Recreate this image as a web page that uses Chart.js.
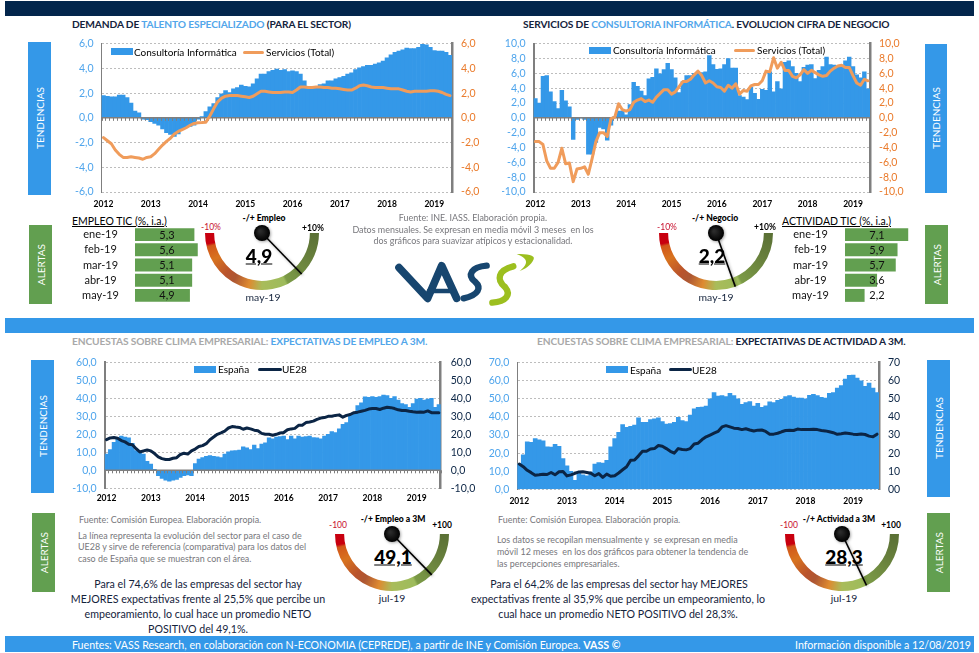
<!DOCTYPE html>
<html lang="es">
<head>
<meta charset="utf-8">
<title>Consultoría Informática - Tendencias y alertas</title>
<script src="https://cdn.jsdelivr.net/npm/chart.js@4/dist/chart.umd.min.js"></script>
<style>
  html, body { margin: 0; padding: 0; background: #fff; }
  body { position: relative; width: 979px; height: 653px; overflow: hidden; font-family: Lato, "Open Sans", sans-serif; color: #14233c; }
  canvas { position: absolute; }
  .band { position: absolute; left: 5px; width: 969px; }
  .side { position: absolute; display: flex; align-items: center; justify-content: center; color: #fff; font-size: 10px; }
  .side span { writing-mode: vertical-rl; transform: rotate(180deg); white-space: nowrap; }
  .blue { background: #3498e8; }
  .green { background: #629f50; }
  .t { position: absolute; white-space: nowrap; transform: translateY(-50%); }
  .c { position: absolute; white-space: nowrap; transform: translate(-50%, -50%); }
  .title { font-size: 10.2px; font-weight: 700; letter-spacing: -0.13px; color: #14233c; }
  .sky { color: #52a6ea; }
  .mute { color: #a9a9a9; }
  .note { font-size: 8.95px; color: #77777c; }
  .para { font-size: 10.65px; color: #14233c; }
  .gname { font-size: 8.6px; font-weight: 900; color: #000; }
  .gend { font-size: 8.5px; color: #000; font-weight: 700; }
  .gmin { color: #c8102e; font-weight: 400; }
  .gval { font-size: 19px; font-weight: 900; color: #000; text-decoration: underline; }
  .gdate { font-size: 10.4px; color: #14233c; }
  .tbl { font-size: 10.5px; color: #000; text-decoration: underline; }
  .leg { font-size: 10px; color: #000; }
  .swatch { position: absolute; background: #3498e8; }
  .legline { position: absolute; height: 3px; border-radius: 2px; }
  .foot { font-size: 10.65px; color: #fff; }
</style>
</head>
<body>

<div class="band" style="top:1px;height:15px;background:#03264c"></div>
<div class="band blue" style="top:318px;height:15px"></div>
<div class="band blue" style="top:636px;height:16px"></div>

<div class="side blue" style="left:28px;top:42px;width:23px;height:153px"><span>TENDENCIAS</span></div>
<div class="side blue" style="left:925px;top:44px;width:22px;height:149px"><span>TENDENCIAS</span></div>
<div class="side green" style="left:29px;top:225px;width:23px;height:79px"><span>ALERTAS</span></div>
<div class="side green" style="left:925px;top:225px;width:23px;height:79px"><span>ALERTAS</span></div>
<div class="side blue" style="left:31px;top:360px;width:23px;height:133px"><span>TENDENCIAS</span></div>
<div class="side blue" style="left:927px;top:360px;width:23px;height:137px"><span>TENDENCIAS</span></div>
<div class="side green" style="left:32px;top:513px;width:23px;height:79px"><span>ALERTAS</span></div>
<div class="side green" style="left:927px;top:513px;width:23px;height:79px"><span>ALERTAS</span></div>

<div class="t title" style="left:72px;top:24px">DEMANDA DE <span class="sky">TALENTO ESPECIALIZADO</span> (PARA EL SECTOR)</div>
<div class="t title" style="left:523px;top:24px">SERVICIOS DE <span class="sky">CONSULTORIA INFORMÁTICA</span>. EVOLUCION CIFRA DE NEGOCIO</div>
<div class="t title" style="left:72px;top:341px"><span class="mute">ENCUESTAS SOBRE CLIMA EMPRESARIAL:</span> <span class="sky">EXPECTATIVAS DE EMPLEO A 3M.</span></div>
<div class="t title" style="left:537px;top:341px"><span class="mute">ENCUESTAS SOBRE CLIMA EMPRESARIAL:</span> EXPECTATIVAS DE ACTIVIDAD A 3M.</div>

<canvas id="chartTalento" width="410" height="177" style="left:70px;top:35px;width:410px;height:177px"></canvas>
<canvas id="chartCifra" width="410" height="177" style="left:502px;top:35px;width:410px;height:177px"></canvas>
<canvas id="chartEmpleo" width="410" height="155" style="left:72px;top:354px;width:410px;height:155px"></canvas>
<canvas id="chartActividad" width="420" height="155" style="left:485px;top:354px;width:420px;height:155px"></canvas>

<div class="swatch" style="left:111px;top:48px;width:22px;height:7px"></div>
<div class="t leg" style="left:134px;top:52px">Consultoría Informática</div>
<div class="legline" style="left:243px;top:50.5px;width:21px;background:#f09c5b"></div>
<div class="t leg" style="left:266px;top:52px">Servicios (Total)</div>
<div class="swatch" style="left:589px;top:47px;width:22px;height:7px"></div>
<div class="t leg" style="left:613px;top:50px">Consultoría Informática</div>
<div class="legline" style="left:734px;top:48.5px;width:21px;background:#f09c5b"></div>
<div class="t leg" style="left:757px;top:50px">Servicios (Total)</div>
<div class="swatch" style="left:194px;top:366px;width:22px;height:7px"></div>
<div class="t leg" style="left:218px;top:369px">España</div>
<div class="legline" style="left:258px;top:367.5px;width:24px;background:#0b2545"></div>
<div class="t leg" style="left:282px;top:369px">UE28</div>
<div class="swatch" style="left:606px;top:366px;width:22px;height:7px"></div>
<div class="t leg" style="left:630px;top:369.5px">España</div>
<div class="legline" style="left:669px;top:368px;width:23px;background:#0b2545"></div>
<div class="t leg" style="left:692px;top:369.5px">UE28</div>

<div class="t tbl" style="left:72px;top:221px">EMPLEO TIC (%, i.a.)</div>
<div class="t tbl" style="left:782px;top:221px">ACTIVIDAD TIC (%, i.a.)</div>
<canvas id="barsEmpleo" width="132" height="76" style="left:68px;top:227px;width:132px;height:76px"></canvas>
<canvas id="barsActividad" width="132" height="76" style="left:778px;top:227px;width:132px;height:76px"></canvas>

<div class="c note" style="left:473px;top:217px">Fuente: INE. IASS. Elaboración propia.</div>
<div class="c note" style="left:473px;top:229px">Datos mensuales. Se expresan en media móvil 3 meses&nbsp; en los</div>
<div class="c note" style="left:473px;top:240px">dos gráficos para suavizar atípicos y estacionalidad.</div>

<svg style="position:absolute;left:385px;top:245px" width="160" height="65" viewBox="0 0 480 195" fill="none" stroke-linecap="round" stroke-linejoin="round">
  <path d="M42 68 L128 160 L170 62 L215 160" stroke="#17466f" stroke-width="23"/>
  <path d="M132 138 L196 138" stroke="#17466f" stroke-width="14"/>
  <path d="M305 62 C258 66 246 90 270 110 C290 128 282 150 236 160" stroke="#17466f" stroke-width="19"/>
  <path d="M385 64 C338 76 334 104 360 126 C380 150 362 170 322 173" stroke="#9cbf1f" stroke-width="19"/>
  <path d="M395 27 C425 27 452 30 446 43 C440 60 418 74 404 78 C426 60 436 42 395 27 Z" fill="#9cbf1f"/>
</svg>

<!-- relojes -->
<div class="c gname" style="left:264px;top:218px">-/+ Empleo</div>
<div class="c gend gmin" style="left:211px;top:227px">-10%</div>
<div class="c gend" style="left:313px;top:228px">+10%</div>
<div class="c gval" style="left:259px;top:255px">4,9</div>
<div class="c gdate" style="left:263px;top:297px">may-19</div>

<div class="c gname" style="left:715px;top:218px">-/+ Negocio</div>
<div class="c gend gmin" style="left:667px;top:227px">-10%</div>
<div class="c gend" style="left:765px;top:227px">+10%</div>
<div class="c gval" style="left:712px;top:255px">2,2</div>
<div class="c gdate" style="left:716px;top:297px">may-19</div>

<div class="c gname" style="left:393px;top:519px">-/+ Empleo a 3M</div>
<div class="c gend gmin" style="left:338px;top:525px">-100</div>
<div class="c gend" style="left:442px;top:525px">+100</div>
<div class="c gval" style="left:393px;top:556px">49,1</div>
<div class="c gdate" style="left:392px;top:598px">jul-19</div>

<div class="c gname" style="left:839px;top:519px">-/+ Actividad a 3M</div>
<div class="c gend gmin" style="left:789px;top:525px">-100</div>
<div class="c gend" style="left:891px;top:525px">+100</div>
<div class="c gval" style="left:844px;top:556px">28,3</div>
<div class="c gdate" style="left:844px;top:598px">jul-19</div>

<canvas id="gaugeEmpleo" width="130" height="72" style="left:197px;top:223px;width:130px;height:72px;z-index:2"></canvas>
<canvas id="gaugeNegocio" width="130" height="72" style="left:651px;top:223px;width:130px;height:72px;z-index:2"></canvas>
<canvas id="gaugeEmpleo3m" width="130" height="72" style="left:327px;top:524px;width:130px;height:72px;z-index:2"></canvas>
<canvas id="gaugeActividad3m" width="130" height="72" style="left:777px;top:524px;width:130px;height:72px;z-index:2"></canvas>

<div class="t note" style="left:79px;top:519px">Fuente: Comisión Europea. Elaboración propia.</div>
<div class="t note" style="left:78px;top:535px">La línea representa la evolución del sector para el caso de</div>
<div class="t note" style="left:78px;top:546px">UE28 y sirve de referencia (comparativa) para los datos del</div>
<div class="t note" style="left:78px;top:558px">caso de España que se muestran con el área.</div>

<div class="t note" style="left:498px;top:519px">Fuente: Comisión Europea. Elaboración propia.</div>
<div class="t note" style="left:497px;top:539px">Los datos se recopilan mensualmente y&nbsp; se expresan en media</div>
<div class="t note" style="left:497px;top:551px">móvil 12 meses&nbsp; en los dos gráficos para obtener la tendencia de</div>
<div class="t note" style="left:497px;top:563px">las percepciones empresariales.</div>

<div class="c para" style="left:198px;top:583px">Para el 74,6% de las empresas del sector hay</div>
<div class="c para" style="left:198px;top:598px">MEJORES expectativas frente al 25,5% que percibe un</div>
<div class="c para" style="left:198px;top:613px">empeoramiento, lo cual hace un promedio NETO</div>
<div class="c para" style="left:198px;top:628px">POSITIVO del 49,1%.</div>
<div class="c para" style="left:619px;top:583px">Para el 64,2% de las empresas del sector hay MEJORES</div>
<div class="c para" style="left:618px;top:598px">expectativas frente al 35,9% que percibe un empeoramiento, lo</div>
<div class="c para" style="left:618px;top:613px">cual hace un promedio NETO POSITIVO del 28,3%.</div>

<div class="t foot" style="left:72px;top:644px">Fuentes: VASS Research, en colaboración con N-ECONOMIA (CEPREDE), a partir de INE y Comisión Europea. <b>VASS ©</b></div>
<div class="t foot" style="left:795px;top:644px">Información disponible a 12/08/2019</div>

<script>
// --- DATOS --- //

const tickYears = [2012, 2013, 2014, 2015, 2016, 2017, 2018, 2019];

// Demanda de talento: ene-2012 a may-2019
const talentoConsultoria = [
  1.8, 1.75, 1.7, 1.7, 1.85, 1.85, 1.65, 1.2, 0.55, 0.4, -0.1, -0.15,
  -0.3, -0.45, -0.6, -0.9, -1.2, -1.35, -1.5, -1.3, -0.9, -0.75, -0.7, -0.6,
  -0.1, 0.1, 0.5, 0.9, 1.15, 1.65, 1.95, 2.2, 2.05, 2.35, 2.45, 2.65,
  2.55, 2.5, 2.75, 3.15, 3.55, 3.55, 3.75, 3.85, 3.95, 3.85, 3.9, 3.75,
  3.8, 3.75, 3.55, 3.0, 2.5, 2.55, 2.55, 2.7, 2.75, 3.0, 3.0, 3.15,
  3.25, 3.35, 3.55, 3.65, 3.9, 4.05, 4.15, 4.25, 4.25, 4.35, 4.45, 4.6,
  4.85, 5.1, 5.3, 5.4, 5.5, 5.65, 5.6, 5.6, 5.7, 5.95, 5.9, 5.7,
  5.45, 5.4, 5.4, 5.3, 5.05
];
const talentoServicios = [
  -1.6, -1.85, -2.1, -2.6, -2.95, -3.2, -3.2, -3.15, -3.2, -3.25, -3.35, -3.2,
  -3.15, -2.9, -2.55, -2.2, -1.9, -1.65, -1.3, -1.1, -0.95, -0.8, -0.6, -0.45,
  -0.4, -0.38, -0.35, 0.15, 0.75, 1.3, 1.6, 1.75, 1.8, 1.8, 1.8, 1.75,
  1.7, 1.65, 1.75, 1.95, 2.15, 2.15, 2.1, 2.05, 2.05, 2.05, 2.1, 2.1,
  2.05, 2.25, 2.5, 2.5, 2.45, 2.45, 2.5, 2.5, 2.45, 2.45, 2.4, 2.4,
  2.35, 2.3, 2.25, 2.25, 2.4, 2.6, 2.65, 2.6, 2.5, 2.45, 2.45, 2.45,
  2.4, 2.35, 2.35, 2.35, 2.25, 2.15, 2.1, 2.15, 2.15, 2.15, 2.15, 2.2,
  2.2, 2.15, 2.05, 1.9, 1.8
];

// Cifra de negocio: ene-2012 a may-2019
const cifraConsultoria = [
  2.6, 2.0, 5.6, 5.7, 3.5, 2.2, 1.25, 3.7, 2.3, 1.5, -2.9, -0.2,
  0, -0.2, -4.9, -4.9, -3.3, -1.3, -1.5, -3.0, -1.0, 0.2, 0.9, 0.9,
  0.4, 1.8, 4.8, 4.25, 3.6, 3.0, 5.25, 5.45, 6.6, 5.95, 6.5, 7.35,
  6.5, 5.4, 3.4, 4.9, 5.7, 5.7, 6.0, 6.1, 6.1, 6.2, 8.4, 7.2,
  6.55, 6.6, 7.2, 8.0, 6.7, 6.7, 3.0, 2.8, 2.45, 4.1, 3.3, 2.5,
  3.85, 3.7, 6.2, 3.5, 4.9, 3.9, 7.5, 7.7, 6.9, 6.0, 4.9, 6.8,
  7.1, 7.2, 5.3, 6.4, 6.9, 8.2, 7.2, 7.1, 6.8, 6.9, 7.7, 8.2,
  6.9, 5.8, 5.4, 6.2, 3.9
];
const cifraServicios = [
  -3.2, -3.2, -3.6, -5.8, -6.8, -6.8, -6.0, -4.1, -6.2, -6.1, -8.6, -6.9,
  -6.8, -6.6, -7.6, -5.5, -3.2, -2.0, -2.0, -2.5, -0.1, 0.1, 1.9, 1.1,
  0.9, 1.1, 2.1, 2.4, 2.6, 2.2, 2.4, 2.1, 2.8, 3.3, 3.8, 3.8,
  3.2, 3.5, 4.2, 4.9, 4.9, 5.2, 5.8, 6.3, 5.7, 4.7, 5.0, 4.7,
  4.2, 4.1, 3.6, 4.4, 4.0, 4.6, 3.2, 3.7, 3.6, 4.3, 4.5, 4.5,
  5.0, 6.3, 6.2, 8.1, 6.7, 7.5, 6.4, 6.4, 5.6, 5.4, 5.8, 6.5,
  6.0, 6.4, 6.1, 5.8, 5.6, 5.7, 6.3, 6.7, 7.0, 7.1, 6.8, 6.8,
  5.7, 4.7, 4.4, 5.2, 5.0
];

// Expectativas de empleo: ene-2012 a jul-2019
const empleoEspana = [
  9, 11.5, 15.5, 18, 19, 18.5, 18, 15, 11, 10, 9, 5,
  3.5, 0.5, -3, -4.5, -5.5, -6, -5.5, -5, -4, -3, -2.5, -3,
  3.8, 6.3, 7, 7.8, 8.2, 7.8, 7.5, 7, 9, 10.3, 10.8, 11,
  11.2, 13, 12.5, 11.5, 14, 12, 14.5, 15.2, 18, 17.5, 18.5, 18.8,
  19, 17, 19, 17.5, 19, 18.5, 18.8, 19, 18.2, 18, 17.5, 19,
  20, 21.5, 21, 23, 25.5, 26.5, 31, 32, 36, 37.5, 40.8, 40.5,
  41, 40.5, 41, 41.8, 41.5, 40, 41, 39, 37, 36.5, 35, 37,
  39.5, 40, 39, 39.5, 40, 35, 36.5
];
const empleoUE28 = [
  17, 18, 18.2, 17.8, 16.5, 15.8, 14.5, 14.2, 12, 10.2, 10.8, 11.3,
  10.8, 9.3, 7.5, 6.5, 6, 6, 6.7, 7, 8.8, 9.5, 9, 10.8,
  11.8, 13.2, 13.7, 14.8, 17, 18.5, 20, 20.8, 21.8, 23.5, 24.3, 24,
  23.8, 22.8, 23.5, 23, 22.3, 22, 20.5, 20, 20, 19.5, 20, 20.7,
  21, 22.5, 23, 23.3, 25, 25, 26.5, 26.8, 27.3, 28.3, 29, 29.3,
  30, 30, 30.5, 30.8, 29.5, 30.5, 31, 32, 32.3, 32.8, 33.3, 34,
  34.3, 34.3, 33.8, 34.5, 35, 34.8, 34.3, 33.6, 33.2, 33.2, 32.8, 32.5,
  32.3, 32.4, 32.3, 33, 32, 32, 32
];

// Expectativas de actividad: ene-2012 a jul-2019
const actividadEspana = [
  14, 19, 26.3, 26, 28, 27.3, 26.8, 23.5, 23.3, 24.8, 23.8, 17,
  13, 10, 5, 10, 8, 7.5, 9.5, 14, 14.8, 14.5, 16, 23.5,
  28, 31.5, 35.8, 34.3, 34.8, 35.5, 39.5, 37, 37, 38.5, 39, 39.5,
  37.5, 36, 36.3, 37, 39.8, 38, 37.5, 41, 44.5, 45.3, 45.5, 46,
  50, 53.5, 51.5, 51.8, 51.3, 53, 51.8, 50, 47, 48, 48.5, 46,
  47.5, 45.3, 46.2, 48.3, 48, 49.2, 49.8, 51.3, 51.8, 51, 50.5, 50.5,
  50, 52, 52.5, 51.8, 50.8, 50.5, 53, 53.5, 56, 57.3, 61, 63,
  63.2, 61.5, 60, 57, 58.8, 56, 53.5
];
const actividadUE28 = [
  14, 12.5, 10.5, 9.2, 7.8, 8, 8.3, 8.2, 9.3, 8, 9.7, 9.8,
  7.4, 8, 8.8, 9.6, 9.7, 9.3, 8.9, 7.5, 8.7, 6.6, 8.4, 7.2,
  7.5, 9, 10.8, 12.5, 16, 16.2, 18.5, 21, 21, 22.3, 22.5, 24.2,
  23.8, 22.5, 21, 20, 22.5, 22, 21.8, 22.5, 25, 25.5, 27.5, 29,
  30, 31, 32, 34.5, 35.2, 34.5, 33.8, 33.6, 33, 33.5, 32.8, 32.2,
  32.7, 32.8, 32, 30.5, 30.5, 31, 31.8, 32.5, 32.6, 32.5, 33.3, 33,
  33, 33, 33.2, 33, 32.5, 32.3, 31.8, 31.3, 30.4, 30.7, 31.1, 30.8,
  30.5, 30.3, 30.6, 30.3, 29.4, 29, 30.5
];

// Tablas de alertas
const alertMonths = ['ene-19', 'feb-19', 'mar-19', 'abr-19', 'may-19'];
const empleoTic = [5.3, 5.6, 5.1, 5.1, 4.9];
const actividadTic = [7.1, 5.9, 5.7, 3.6, 2.2];

// Relojes: valor, mínimo, máximo
const gaugeEmpleoValue = [4.9, -10, 10];
const gaugeNegocioValue = [2.2, -10, 10];
const gaugeEmpleo3mValue = [49.1, -100, 100];
const gaugeActividad3mValue = [28.3, -100, 100];

// --- ESTILO --- //

const colors = {
  bar: '#3498e8',
  orange: '#f09c5b',
  orangeText: '#ea7b2c',
  navy: '#0b2545',
  blueText: '#4fa5ec',
  grid: '#bdbdbd',
  axis: '#7f7f7f',
  green: '#629f50'
};

Chart.defaults.font.family = 'Lato, "Open Sans", sans-serif';
Chart.defaults.animation = false;
Chart.defaults.responsive = false;

const monthLabels = (count) => {
  const labels = [];
  for (let i = 0; i < count; i++) {
    labels.push(tickYears[Math.floor(i / 12)] + '-' + String(i % 12 + 1).padStart(2, '0'));
  }
  return labels;
};

const comma = (v) => v.toFixed(1).replace('.', ',');

// El ajuste de ancho fija también el área: sin el margen extra que Chart.js añade por las etiquetas
const fixWidth = (width) => (s) => {
  s.width = width;
  s.paddingTop = 0;
  s.paddingBottom = 0;
};

// Línea del cero con marcas mensuales, entre las barras y la línea
const zeroAxis = {
  id: 'zeroAxis',
  afterDatasetDraw(chart, args) {
    if (args.index !== 0) return;
    const y = chart.scales.y;
    const x = chart.scales.x;
    if (y.min >= 0) return;
    const { ctx, chartArea } = chart;
    const py = y.getPixelForValue(0);
    const step = x.getPixelForValue(1) - x.getPixelForValue(0);
    ctx.save();
    ctx.strokeStyle = colors.axis;
    ctx.lineWidth = 1.5;
    ctx.beginPath();
    ctx.moveTo(chartArea.left, py);
    ctx.lineTo(chartArea.right, py);
    ctx.stroke();
    ctx.lineWidth = 1;
    ctx.beginPath();
    for (let i = 0; i <= x.max + 1; i++) {
      const px = Math.round(x.getPixelForValue(i) - step / 2) + 0.5;
      ctx.moveTo(px, py);
      ctx.lineTo(px, py + 3);
    }
    ctx.stroke();
    ctx.restore();
  }
};

function trendChart(id, cfg) {
  new Chart(document.getElementById(id), {
    data: {
      labels: monthLabels(cfg.bars.length),
      datasets: [
        {
          type: 'bar',
          data: cfg.bars,
          yAxisID: 'y',
          order: 2,
          backgroundColor: colors.bar,
          barPercentage: 1,
          categoryPercentage: 1,
          borderWidth: 0
        },
        {
          type: 'line',
          data: cfg.line,
          yAxisID: 'y1',
          order: 1,
          borderColor: cfg.lineColor,
          borderWidth: 3,
          borderJoinStyle: 'round',
          borderCapStyle: 'round',
          pointRadius: 0,
          tension: 0
        }
      ]
    },
    plugins: [zeroAxis],
    options: {
      layout: { padding: { top: cfg.top, left: 0, right: 0, bottom: 0 } },
      plugins: { legend: { display: false }, tooltip: { enabled: false } },
      scales: {
        x: {
          offset: true,
          grid: { display: false, drawTicks: false },
          border: { display: false },
          afterFit: (s) => { s.height = cfg.bottom; },
          ticks: {
            autoSkip: false,
            maxRotation: 0,
            padding: cfg.xPad,
            color: '#000',
            font: { size: 8.5, weight: 'bold' },
            callback(v, i) { return i % 12 === 0 ? tickYears[i / 12] : ''; }
          }
        },
        y: {
          position: 'left',
          min: cfg.min,
          max: cfg.max,
          afterFit: fixWidth(cfg.left),
          grid: { color: colors.grid, drawTicks: false },
          border: { color: colors.axis, width: cfg.leftBorder, dash: [2, 2] },
          ticks: {
            autoSkip: false,
            stepSize: cfg.step,
            padding: 8,
            color: colors.blueText,
            font: { size: 10.5 },
            callback: (v) => comma(v)
          }
        },
        y1: {
          position: 'right',
          min: cfg.min,
          max: cfg.max,
          afterFit: fixWidth(cfg.right),
          grid: { display: false, drawTicks: false },
          border: { color: colors.axis, width: 2.5 },
          ticks: {
            autoSkip: false,
            stepSize: cfg.step,
            padding: cfg.rightPad,
            color: cfg.rightColor,
            font: { size: 10.5 },
            callback: cfg.rightFormat || ((v) => comma(v))
          }
        }
      }
    }
  });
}

trendChart('chartTalento', {
  bars: talentoConsultoria, line: talentoServicios, lineColor: colors.orange,
  min: -6, max: 6, step: 2, left: 31.5, right: 28, top: 8.7, bottom: 20, xPad: 7,
  leftBorder: 1, rightColor: colors.orangeText, rightPad: 9
});
trendChart('chartCifra', {
  bars: cifraConsultoria, line: cifraServicios, lineColor: colors.orange,
  min: -10, max: 10, step: 2, left: 31.5, right: 42, top: 8.7, bottom: 20, xPad: 7,
  leftBorder: 2, rightColor: colors.orangeText, rightPad: 9
});
trendChart('chartEmpleo', {
  bars: empleoEspana, line: empleoUE28, lineColor: colors.navy,
  min: -10, max: 60, step: 10, left: 32.7, right: 41.3, top: 8.3, bottom: 20.7, xPad: 5,
  leftBorder: 2, rightColor: colors.navy, rightPad: 10
});
trendChart('chartActividad', {
  bars: actividadEspana, line: actividadUE28, lineColor: colors.navy,
  min: 0, max: 70, step: 10, left: 32.3, right: 26, top: 8.7, bottom: 19.7, xPad: 7,
  leftBorder: 1, rightColor: colors.navy, rightPad: 9,
  rightFormat: (v) => String(v).padStart(2, '0')
});

// Etiquetas de valor centradas en la celda de la tabla
const cellValues = {
  id: 'cellValues',
  afterDatasetsDraw(chart) {
    const { ctx, chartArea, scales: { y } } = chart;
    const values = chart.data.datasets[0].data;
    ctx.save();
    ctx.font = '11px Lato';
    ctx.fillStyle = '#111';
    ctx.textAlign = 'center';
    ctx.textBaseline = 'middle';
    values.forEach((v, i) => {
      ctx.fillText(comma(v), chartArea.left + 32, y.getPixelForValue(i) + 0.5);
    });
    ctx.restore();
  }
};

function alertBars(id, values, axisMax) {
  new Chart(document.getElementById(id), {
    type: 'bar',
    data: {
      labels: alertMonths,
      datasets: [{
        data: values,
        backgroundColor: colors.green,
        borderWidth: 0,
        barPercentage: 1,
        categoryPercentage: 0.85
      }]
    },
    plugins: [cellValues],
    options: {
      indexAxis: 'y',
      plugins: { legend: { display: false }, tooltip: { enabled: false } },
      scales: {
        x: { display: false, min: 0, max: axisMax },
        y: {
          afterFit: fixWidth(67),
          grid: { display: false, drawTicks: false },
          border: { display: false },
          ticks: { autoSkip: false, crossAlign: 'center', padding: 16, color: '#111', font: { size: 11 } }
        }
      }
    }
  });
}

alertBars('barsEmpleo', empleoTic, 5.8);
alertBars('barsActividad', actividadTic, 7.3);

// --- RELOJES --- //

const ringStops = [
  [0, '#c8000f'], [0.062, '#c8000f'], [0.078, '#d2571a'], [0.16, '#d8731f'],
  [0.27, '#b9532c'], [0.33, '#ad5733'], [0.42, '#de8a30'], [0.5, '#a9bc5a'],
  [0.64, '#9dbb5c'], [0.655, '#7b9a46'], [0.85, '#677f3c'], [1, '#5a7035']
];

const gaugeNeedle = {
  id: 'gaugeNeedle',
  afterDatasetsDraw(chart) {
    const { ctx } = chart;
    const arc = chart.getDatasetMeta(0).data[0];
    const tipX = arc.x + Math.cos(arc.endAngle) * arc.outerRadius;
    const tipY = arc.y + Math.sin(arc.endAngle) * arc.outerRadius;
    ctx.save();
    ctx.shadowColor = 'rgba(0,0,0,0.35)';
    ctx.shadowBlur = 3;
    ctx.shadowOffsetX = 1;
    ctx.shadowOffsetY = 1;
    ctx.strokeStyle = '#000';
    ctx.lineWidth = 1.6;
    ctx.beginPath();
    ctx.moveTo(arc.x, arc.y);
    ctx.lineTo(tipX, tipY);
    ctx.stroke();
    const knob = ctx.createRadialGradient(arc.x - 2, arc.y - 2, 1, arc.x, arc.y, 8);
    knob.addColorStop(0, '#2b2b2b');
    knob.addColorStop(1, '#000');
    ctx.fillStyle = knob;
    ctx.beginPath();
    ctx.arc(arc.x, arc.y, 8, 0, Math.PI * 2);
    ctx.fill();
    ctx.restore();
  }
};

function gauge(id, [value, min, max]) {
  new Chart(document.getElementById(id), {
    type: 'doughnut',
    data: {
      datasets: [{
        // de derecha a izquierda por abajo: lo que falta hasta el máximo y lo recorrido
        data: [max - value, value - min],
        borderWidth: 0,
        backgroundColor(c) {
          const area = c.chart.chartArea;
          if (!area) return '#888';
          const g = c.chart.ctx.createConicGradient(0, (area.left + area.right) / 2, area.top);
          ringStops.forEach(([f, col]) => g.addColorStop((1 - f) / 2, col));
          return g;
        }
      }]
    },
    plugins: [gaugeNeedle],
    options: {
      rotation: 90,
      circumference: 180,
      cutout: '84%',
      layout: { padding: { left: 8, right: 8, top: 10, bottom: 5 } },
      plugins: { legend: { display: false }, tooltip: { enabled: false } }
    }
  });
}

gauge('gaugeEmpleo', gaugeEmpleoValue);
gauge('gaugeNegocio', gaugeNegocioValue);
gauge('gaugeEmpleo3m', gaugeEmpleo3mValue);
gauge('gaugeActividad3m', gaugeActividad3mValue);
</script>
</body>
</html>
